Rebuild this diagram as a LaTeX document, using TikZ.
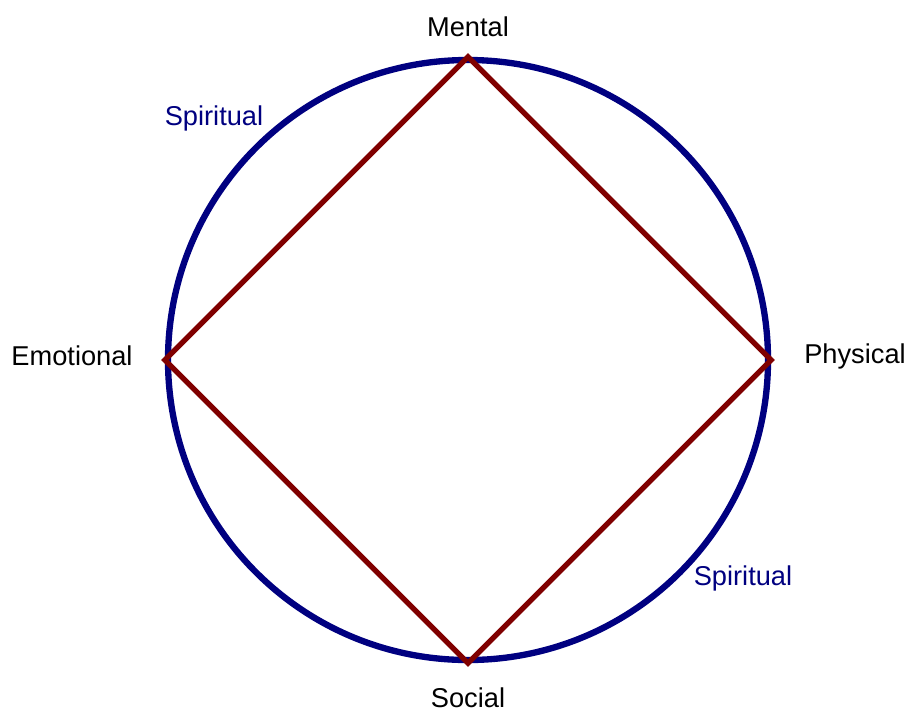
\documentclass[tikz,border=0pt]{standalone}
\usepackage{fontspec}
\setmainfont{Liberation Sans}
\usetikzlibrary{positioning}
\definecolor{ringblue}{RGB}{0,0,128}
\definecolor{squarered}{RGB}{128,0,0}
\tikzset{lbl/.style={font=\fontsize{15.5}{18}\selectfont},
  splbl/.style={lbl,text=ringblue}}
\begin{document}
\begin{tikzpicture}[x=.02cm,y=-.02cm]
\useasboundingbox(0,0)rectangle(909,714);
\node[draw=ringblue,line width=3.6pt,circle,minimum size=600*.02cm,inner sep=0pt](ring)at(468,360){};
\coordinate(M)at(ring.north);\coordinate(P)at(ring.east);\coordinate(S)at(ring.south);\coordinate(E)at(ring.west);
\draw[squarered,line width=3pt,line join=miter](M)--(P)--(S)--(E)--cycle;
\node[lbl](mental)at(468,27){Mental};\node[lbl](physical)at(855,356){Physical};
\node[lbl](social)at(468,698){Social};\node[lbl](emotional)at(72,356){Emotional};
\node[splbl](spirA)at(214,118){Spiritual};\node[splbl](spirB)at(743,578){Spiritual};
\end{tikzpicture}
\end{document}
